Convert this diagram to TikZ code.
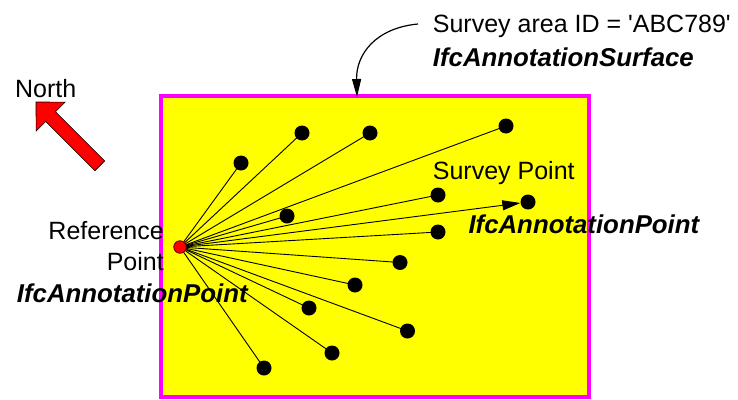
\documentclass[tikz,border=0pt]{standalone}
\usepackage{fontspec}
\setmainfont{Liberation Sans}
\usetikzlibrary{arrows.meta}
\pgfdeclarelayer{bgl}
\pgfdeclarelayer{linel}
\pgfsetlayers{bgl,linel,main}
\definecolor{areayellow}{RGB}{255,255,0}
\definecolor{areamag}{RGB}{255,0,255}
\definecolor{ptred}{RGB}{255,0,0}
\begin{document}
\begin{tikzpicture}[x=1pt,y=-1pt,
  txt/.style={inner sep=0pt,font=\fontsize{25}{30}\selectfont},
  btxt/.style={txt,font=\fontsize{25.8}{30}\selectfont\bfseries\itshape},
  dot/.style={circle,fill=black,inner sep=0pt,minimum size=15pt},
  refdot/.style={circle,fill=ptred,draw=black!60!red,line width=0.8pt,inner sep=0pt,minimum size=12.5pt},
  ray/.style={draw=black,line width=0.9pt},
  area/.style={rectangle,draw=areamag,fill=areayellow,line width=4pt,inner sep=0pt,outer sep=0pt}
]
\useasboundingbox (0,0) rectangle (738,399);

% survey area
\begin{pgfonlayer}{bgl}
\node[area,minimum width=428.3pt,minimum height=300.2pt] (area) at (374.85,246.4) {};
\end{pgfonlayer}

% reference point and survey points
\node[refdot] (ref) at (180,247) {};
\node[dot] (p1) at (241,163) {};
\node[dot] (p2) at (302,133) {};
\node[dot] (p3) at (370,133) {};
\node[dot] (p4) at (506,126) {};
\node[dot] (p5) at (438,195) {};
\node[dot] (p6) at (528,202) {};
\node[dot] (p7) at (287,216) {};
\node[dot] (p8) at (438,232) {};
\node[dot] (p9) at (400,262.5) {};
\node[dot] (p10) at (355,285) {};
\node[dot] (p11) at (309,308) {};
\node[dot] (p12) at (407.5,331) {};
\node[dot] (p13) at (332,353) {};
\node[dot] (p14) at (264,368) {};

\begin{pgfonlayer}{linel}
\foreach \p in {p1,p2,p3,p4,p5,p7,p8,p9,p10,p11,p12,p13,p14}
  \draw[ray] (ref.center) -- (\p.center);
\draw[ray,-{Triangle[length=18pt,width=10pt]}] (ref.center) -- (p6);
\end{pgfonlayer}

% north arrow
\node[txt,anchor=base west] (north) at (15,97.7) {North};
\draw[fill=ptred,draw=black,line width=0.6pt]
  (36,102) -- (65.1,102.1) -- (55.5,111.7) -- (104.7,160.9) -- (94.9,170.7)
  -- (45.7,121.5) -- (36.1,131.1) -- cycle;

% labels
\node[txt,anchor=base east] (reft1) at (164,239.5) {Reference};
\node[txt,anchor=base east] (reft2) at (164,270.7) {Point};
\node[btxt,anchor=base west] (reft3) at (16.7,302.7) {IfcAnnotationPoint};

\node[txt,anchor=base west] (spt1) at (432.7,179.3) {Survey Point};
\node[btxt,anchor=base west] (spt2) at (468.3,233.3) {IfcAnnotationPoint};

\node[txt,anchor=base west] (sa1) at (432.7,32.3) {Survey area ID = \textquotesingle ABC789\textquotesingle};
\node[btxt,anchor=base west] (sa2) at (432.7,66.2) {IfcAnnotationSurface};

\coordinate (cstart) at (418,24);
\coordinate (ctip) at (357,97);
\draw[line width=1.2pt,-{Triangle[length=18pt,width=9pt]}]
  (cstart) .. controls (375,28) and (356,55) .. (ctip);
\end{tikzpicture}
\end{document}
